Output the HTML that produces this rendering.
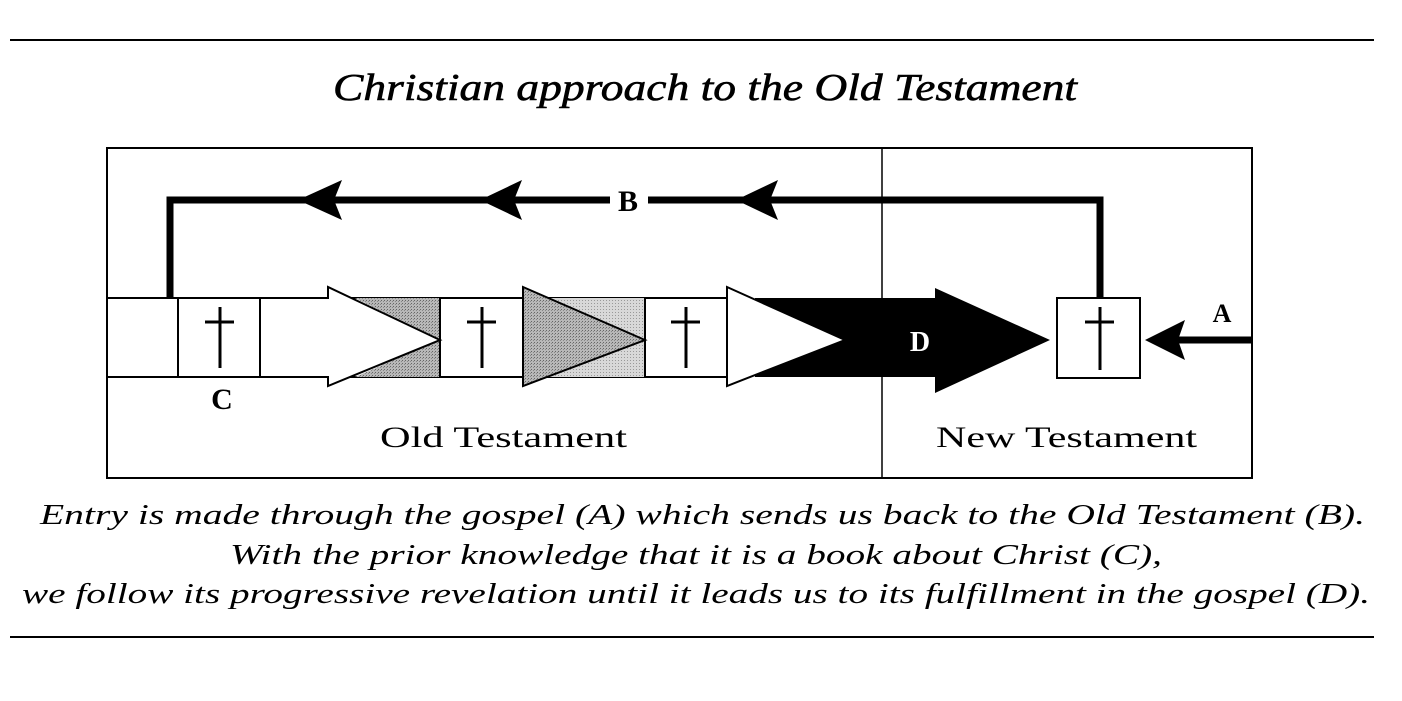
<!DOCTYPE html>
<html><head><style>
body{margin:0;background:#fff;}
svg{display:block;}
</style></head><body>
<svg width="1402" height="701" viewBox="0 0 1402 701" xmlns="http://www.w3.org/2000/svg">
<defs>
<pattern id="dots" width="3" height="3" patternUnits="userSpaceOnUse">
<rect width="3" height="3" fill="#b8b8b8"/><rect width="1" height="1" fill="#666"/><rect x="2" y="1" width="1" height="1" fill="#888"/>
</pattern>
<pattern id="dots2" width="3" height="3" patternUnits="userSpaceOnUse">
<rect width="3" height="3" fill="#d8d8d8"/><rect width="1" height="1" fill="#999"/>
</pattern>
</defs>
<line x1="10" y1="40" x2="1374" y2="40" stroke="#000" stroke-width="2"/>
<line x1="10" y1="637" x2="1374" y2="637" stroke="#000" stroke-width="2"/>
<text x="333" y="100" textLength="744" lengthAdjust="spacingAndGlyphs" font-family="Liberation Serif, serif" font-style="italic" font-size="38" stroke="#000" stroke-width="0.6">Christian approach to the Old Testament</text>

<rect x="107" y="148" width="1145" height="330" fill="none" stroke="#000" stroke-width="2"/>
<line x1="882" y1="148" x2="882" y2="478" stroke="#000" stroke-width="1.5"/>

<rect x="107" y="298" width="620" height="79" fill="#fff" stroke="#000" stroke-width="2"/>
<polygon points="355,298 440,298 440,340" fill="url(#dots)"/>
<polygon points="355,377 440,377 440,340" fill="url(#dots)"/>
<polygon points="523,298 645,298 645,377 523,377" fill="url(#dots2)"/>
<polygon points="755,298 935,298 935,288 1050,340 935,393 935,377 755,377" fill="#000"/>
<rect x="178" y="298" width="82" height="79" fill="#fff" stroke="#000" stroke-width="2"/>
<rect x="440" y="298" width="83" height="79" fill="#fff" stroke="#000" stroke-width="2"/>
<rect x="645" y="298" width="82" height="79" fill="#fff" stroke="#000" stroke-width="2"/>
<rect x="1057" y="298" width="83" height="80" fill="#fff" stroke="#000" stroke-width="2"/>
<polygon points="260,298 328,298 328,287 440,340 328,386 328,377 260,377" fill="#fff" stroke="#000" stroke-width="2"/>
<polygon points="523,287 645,340 523,386" fill="url(#dots)" stroke="#000" stroke-width="2"/>
<polygon points="727,287 845,340 727,386" fill="#fff" stroke="#000" stroke-width="2"/>
<g stroke="#000" stroke-width="3">
<line x1="220" y1="307" x2="220" y2="368"/><line x1="205" y1="322" x2="234" y2="322"/>
<line x1="482" y1="307" x2="482" y2="368"/><line x1="467" y1="322" x2="496" y2="322"/>
<line x1="686" y1="307" x2="686" y2="368"/><line x1="671" y1="322" x2="700" y2="322"/>
<line x1="1100" y1="307" x2="1100" y2="370"/><line x1="1085" y1="322" x2="1114" y2="322"/>
</g>
<polyline points="1100,298 1100,200 648,200" fill="none" stroke="#000" stroke-width="7"/>
<polyline points="610,200 170,200 170,298" fill="none" stroke="#000" stroke-width="7"/>
<polygon points="298,200 342,180 334,200 342,220" fill="#000"/>
<polygon points="480,200 522,180 514,200 522,220" fill="#000"/>
<polygon points="736,200 778,180 770,200 778,220" fill="#000"/>
<text x="628" y="211" text-anchor="middle" font-family="Liberation Serif, serif" font-weight="bold" font-size="30">B</text>
<line x1="1170" y1="340" x2="1252" y2="340" stroke="#000" stroke-width="7"/>
<polygon points="1145,340 1185,320 1178,340 1185,360" fill="#000"/>
<text x="1222" y="322" text-anchor="middle" font-family="Liberation Serif, serif" font-weight="bold" font-size="26">A</text>
<text x="920" y="351" text-anchor="middle" font-family="Liberation Serif, serif" font-weight="bold" font-size="28" fill="#fff">D</text>
<text x="222" y="409" text-anchor="middle" font-family="Liberation Serif, serif" font-weight="bold" font-size="30">C</text>
<text x="380" y="447" textLength="247" lengthAdjust="spacingAndGlyphs" font-family="Liberation Serif, serif" font-size="30">Old Testament</text>
<text x="936" y="447" textLength="261" lengthAdjust="spacingAndGlyphs" font-family="Liberation Serif, serif" font-size="30">New Testament</text>

<g font-family="Liberation Serif, serif" font-style="italic" font-size="29">
<text x="40" y="524" textLength="1325" lengthAdjust="spacingAndGlyphs">Entry is made through the gospel (A) which sends us back to the Old Testament (B).</text>
<text x="230" y="564" textLength="932" lengthAdjust="spacingAndGlyphs">With the prior knowledge that it is a book about Christ (C),</text>
<text x="22" y="603" textLength="1348" lengthAdjust="spacingAndGlyphs">we follow its progressive revelation until it leads us to its fulfillment in the gospel (D).</text>
</g>
</svg>
</body></html>
